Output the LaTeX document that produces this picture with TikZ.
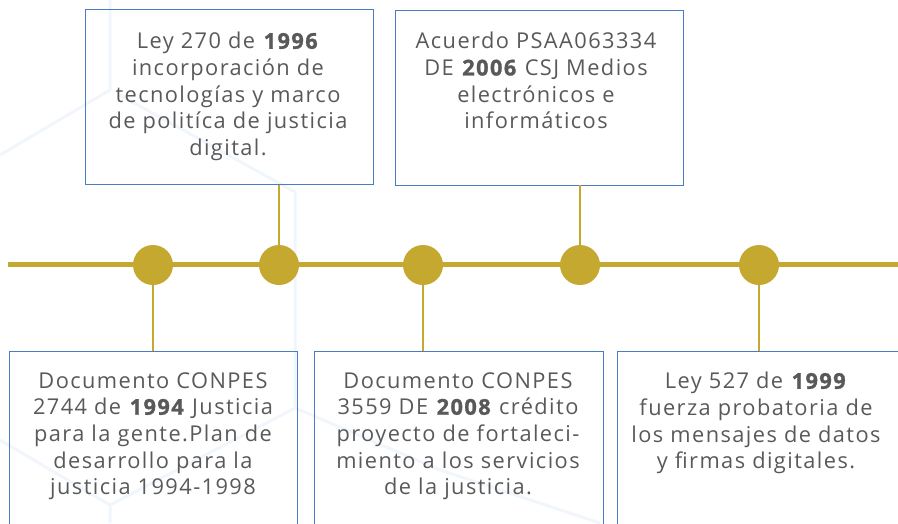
\documentclass[tikz,border=0pt]{standalone}
\usepackage{fontspec}
\setmainfont[LetterSpace=6.5,BoldFeatures={FakeBold=1.2}]{Open Sans}
\usetikzlibrary{positioning}
\definecolor{mygold}{HTML}{C4A82F}
\definecolor{myblue}{HTML}{4A7CC4}
\definecolor{mygray}{HTML}{595959}
\definecolor{hexline}{HTML}{F1F6FC}
\tikzstyle{card}=[draw=myblue,line width=0.9pt,minimum width=288,minimum height=175,inner sep=0]
\tikzstyle{dot}=[circle,fill=mygold,minimum size=40,inner sep=0]
\tikzstyle{txt}=[align=center,text=mygray,font=\fontsize{21.8}{26.7}\selectfont,inner sep=0]
\tikzstyle{stem}=[draw=mygold,line width=2.5pt]
\tikzstyle{hex}=[draw=hexline,line width=3pt]

\begin{document}
\begin{tikzpicture}[x=1pt,y=-1pt]
\useasboundingbox (0,0) rectangle (898,523);

% faint hexagons in the back
\draw[hex] (110,0) -- (110,90) -- (0,155);
\draw[hex] (120,95) -- (295,192) -- (295,408) -- (110,505) -- (110,523);
\draw[hex] (0,440) -- (110,505);
\draw[hex] (295,408) -- (440,470) -- (600,523);

% timeline
\coordinate (tl0) at (8,264);
\coordinate (tl1) at (898,264);
\draw[stem,line width=5pt] (tl0) -- (tl1);

\node[dot] (d1) at (153,265) {};
\node[dot] (d2) at (279,265) {};
\node[dot] (d3) at (423,265) {};
\node[dot] (d4) at (580,265) {};
\node[dot] (d5) at (759,265) {};

% boxes above
\node[card] (top1) at (229,97) {};
\node[card] (top2) at (539,97.5) {};

% boxes below
\node[card,minimum height=180] (bot1) at (153,441) {};
\node[card,minimum height=180,minimum width=289] (bot2) at (458.5,441) {};
\node[card,minimum height=180] (bot3) at (761,441) {};

\draw[stem] (d2) -- (d2 |- top1.south);
\draw[stem] (d4) -- (d4 |- top2.south);
\draw[stem] (d1) -- (d1 |- bot1.north);
\draw[stem] (d3) -- (d3 |- bot2.north);
\draw[stem] (d5) -- (d5 |- bot3.north);

% texts
\node[txt,anchor=north] (txt1) at (228,32) {Ley 270 de \textbf{1996}\\incorporación de\\tecnologías y marco\\de politíca de justicia\\digital.};
\node[txt,anchor=north] (txt2) at (536,32) {Acuerdo PSAA063334\\DE \textbf{2006} CSJ Medios\\electrónicos e\\informáticos};
\node[txt,anchor=north] (txt3) at (153,372) {Documento CONPES\\2744 de \textbf{1994} Justicia\\para la gente.Plan de\\desarrollo para la\\justicia 1994-1998};
\node[txt,anchor=north] (txt4) at (458,372) {Documento CONPES\\3559 DE \textbf{2008} crédito\\proyecto de fortaleci-\\miento a los servicios\\de la justicia.};
\node[txt,anchor=north] (txt5) at (756,372) {Ley 527 de \textbf{1999}\\fuerza probatoria de\\los mensajes de datos\\y firmas digitales.};
\end{tikzpicture}
\end{document}
